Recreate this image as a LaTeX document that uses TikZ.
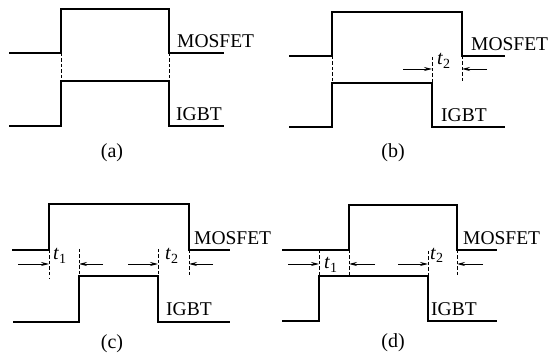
\documentclass[tikz,border=0pt]{standalone}
\usepackage{fontspec}
\setmainfont{Liberation Serif}
\usetikzlibrary{arrows.meta}
\tikzset{
  wave/.style={line width=1.6pt, line join=miter},
  guide/.style={line width=0.9pt, dash pattern=on 3.5pt off 2pt},
  gap/.style={-{Stealth[length=8pt, width=4pt]}, line width=0.9pt},
  sig/.style={font=\fontsize{19.5}{22}\selectfont, anchor=base west, inner sep=0pt},
  panel/.style={font=\fontsize{20}{23}\selectfont, anchor=base, inner sep=0pt},
  tlab/.style={font=\fontsize{20}{22}\selectfont, anchor=base west, inner sep=0pt},
}
\newcommand{\tsub}[1]{\textit{t}\textsubscript{#1}}

\begin{document}
\begin{tikzpicture}[x=1pt, y=-1pt]
\useasboundingbox (0,0) rectangle (549,358);

% (a) both switches together
\begin{scope}
  \draw[wave] (9,53) -| (61,9) -| (169,53) -- (224,53);
  \draw[wave] (9,126) -| (61,81) -| (169,126) -- (224,126);
  \draw[guide] (61,53) -- (61,81);
  \draw[guide] (169,53) -- (169,81);
  \node[sig] (mosA) at (177,48) {MOSFET};
  \node[sig] (igbtA) at (176,121) {IGBT};
  \node[panel] (capA) at (112,158) {(a)};
\end{scope}

% (b) IGBT turns off earlier
\begin{scope}[shift={(275,0)}]
  \draw[wave] (14,56) -| (57,12) -| (187,56) -- (230,56);
  \draw[wave] (14,127) -| (57,83) -| (157,127) -- (230,127);
  \draw[guide] (57,56) -- (57,83);
  \draw[guide] (157,57) -- (157,83);
  \draw[guide] (187,56) -- (187,82);
  \draw[gap] (128,69) -- (157,69);
  \draw[gap] (212,69) -- (187,69);
  \node[tlab] (t2B) at (162,65) {\tsub{2}};
  \node[sig] (mosB) at (196,51) {MOSFET};
  \node[sig] (igbtB) at (166,122) {IGBT};
  \node[panel] (capB) at (118,158) {(b)};
\end{scope}

% (c) IGBT inside the MOSFET pulse
\begin{scope}[shift={(0,179)}]
  \draw[wave] (12,71) -| (49,25) -| (189,71) -- (230,71);
  \draw[wave] (13,143) -| (79,97) -| (158,143) -- (230,143);
  \draw[guide] (49,71) -- (49,100);
  \draw[guide] (79,70) -- (79,97);
  \draw[guide] (158,70) -- (158,97);
  \draw[guide] (189,71) -- (189,97);
  \draw[gap] (18,85) -- (49,85);
  \draw[gap] (103,85) -- (79,85);
  \draw[gap] (128,85) -- (158,85);
  \draw[gap] (213,85) -- (189,85);
  \node[tlab] (t1C) at (53,81) {\tsub{1}};
  \node[tlab] (t2C) at (165,81) {\tsub{2}};
  \node[sig] (mosC) at (194,65) {MOSFET};
  \node[sig] (igbtC) at (166,137) {IGBT};
  \node[panel] (capC) at (112,169) {(c)};
\end{scope}

% (d) IGBT turns on first
\begin{scope}[shift={(275,179)}]
  \draw[wave] (7,71) -| (74,26) -| (182,71) -- (222,71);
  \draw[wave] (7,142) -| (44,97) -| (153,142) -- (222,142);
  \draw[guide] (44,71) -- (44,97);
  \draw[guide] (74,71) -- (74,97);
  \draw[guide] (153,72) -- (153,97);
  \draw[guide] (182,71) -- (182,97);
  \draw[gap] (13,85) -- (44,85);
  \draw[gap] (100,85) -- (74,85);
  \draw[gap] (123,85) -- (153,85);
  \draw[gap] (208,85) -- (182,85);
  \node[tlab] (t1D) at (49,90) {\tsub{1}};
  \node[tlab] (t2D) at (155,80) {\tsub{2}};
  \node[sig] (mosD) at (188,66) {MOSFET};
  \node[sig] (igbtD) at (156,137) {IGBT};
  \node[panel] (capD) at (118,168) {(d)};
\end{scope}

\end{tikzpicture}
\end{document}
